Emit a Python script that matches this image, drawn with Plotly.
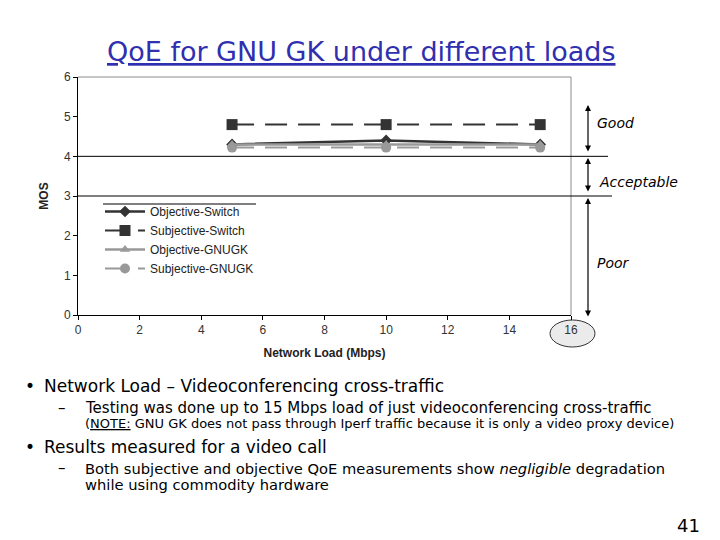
import plotly.graph_objects as go

# ---- data ----
loads = [5, 10, 15]
objective_switch = [4.3, 4.4, 4.3]
subjective_switch = [4.8, 4.8, 4.8]
objective_gnugk = [4.3, 4.3, 4.3]
subjective_gnugk = [4.22, 4.22, 4.22]

x_ticks = [0, 2, 4, 6, 8, 10, 12, 14, 16]
y_ticks = [0, 1, 2, 3, 4, 5, 6]

# plot area geometry in pixels
L, R, T, B = 78, 571, 77, 315
W, H = 720, 540


def px(p):
    return (p - L) / (R - L)


def py(p):
    return (B - p) / (B - T)


fig = go.Figure()
fig.add_trace(go.Scatter(x=loads, y=objective_switch, name="Objective-Switch",
                         mode="lines+markers",
                         line=dict(color="#333333", width=2.5),
                         marker=dict(symbol="diamond", size=9, color="#333333")))
fig.add_trace(go.Scatter(x=loads, y=subjective_switch, name="Subjective-Switch",
                         mode="lines+markers",
                         line=dict(color="#333333", width=2, dash="22px,11px"),
                         marker=dict(symbol="square", size=11, color="#333333")))
fig.add_trace(go.Scatter(x=loads, y=objective_gnugk, name="Objective-GNUGK",
                         mode="lines+markers",
                         line=dict(color="#999999", width=2.5),
                         marker=dict(symbol="triangle-up", size=9, color="#999999")))
fig.add_trace(go.Scatter(x=loads, y=subjective_gnugk, name="Subjective-GNUGK",
                         mode="lines+markers",
                         line=dict(color="#999999", width=2, dash="22px,11px"),
                         marker=dict(symbol="circle", size=10, color="#999999")))

axis_font = dict(family="Liberation Sans", size=12, color="#333333")
fig.update_layout(
    width=W, height=H,
    margin=dict(l=L, r=W - R, t=T, b=H - B),
    paper_bgcolor="white", plot_bgcolor="white",
    showlegend=True,
    legend=dict(x=px(100), y=py(197), xanchor="left", yanchor="top",
                font=dict(family="Liberation Sans", size=12, color="#222222"),
                bgcolor="rgba(0,0,0,0)", tracegroupgap=0, itemwidth=40),
    xaxis=dict(range=[0, 16], tickvals=x_ticks, showgrid=False, zeroline=False,
               showline=True, linecolor="black", linewidth=1,
               ticks="outside", ticklen=4, tickcolor="black",
               tickfont=axis_font,
               title=dict(text="<b>Network Load (Mbps)</b>", standoff=12,
                          font=dict(family="Liberation Sans", size=12, color="#222222"))),
    yaxis=dict(range=[0, 6], tickvals=y_ticks, showgrid=False, zeroline=False,
               showline=True, linecolor="black", linewidth=1,
               ticks="outside", ticklen=4, tickcolor="black",
               tickfont=axis_font,
               title=dict(text="<b>MOS</b>", standoff=12,
                          font=dict(family="Liberation Sans", size=12, color="#222222"))),
)

shapes = []
# top and right gray borders
shapes.append(dict(type="line", xref="paper", yref="paper", x0=0, x1=1, y0=1, y1=1,
                   line=dict(color="#8c8c8c", width=1)))
shapes.append(dict(type="line", xref="paper", yref="paper", x0=1, x1=1, y0=0, y1=1,
                   line=dict(color="#8c8c8c", width=1)))
# threshold lines
shapes.append(dict(type="line", xref="paper", yref="y", x0=0, x1=px(608), y0=4, y1=4,
                   line=dict(color="black", width=1)))
shapes.append(dict(type="line", xref="paper", yref="y", x0=0, x1=px(612), y0=3, y1=3,
                   line=dict(color="black", width=1)))
# legend top line
shapes.append(dict(type="line", xref="paper", yref="paper", x0=px(103), x1=px(256),
                   y0=py(204), y1=py(204), line=dict(color="black", width=1)))
# ellipse around 16
shapes.append(dict(type="circle", xref="paper", yref="paper", x0=px(550), x1=px(595),
                   y0=py(320), y1=py(347), fillcolor="#ebebeb",
                   line=dict(color="#333333", width=1), layer="below"))
fig.update_layout(shapes=shapes)

ann = []
# double arrows
ax_x = px(588)
for ytop, ybot in [(105, 153), (158, 193), (198, 318)]:
    ann.append(dict(xref="x domain", yref="y domain", x=ax_x, y=py(ytop), ax=ax_x, ay=py(ybot),
                    axref="x domain", ayref="y domain", showarrow=True, arrowhead=2,
                    arrowsize=1, arrowwidth=1.2, arrowcolor="black",
                    arrowside="end+start", text=""))
zone_font = dict(family="DejaVu Sans", size=14, color="black")
for label, xp, yp in [("<i>Good</i>", 595, 123), ("<i>Acceptable</i>", 597, 182),
                      ("<i>Poor</i>", 595, 263)]:
    ann.append(dict(xref="paper", yref="paper", x=px(xp), y=py(yp), text=label,
                    showarrow=False, xanchor="left", yanchor="middle", font=zone_font))

# title
ann.append(dict(xref="paper", yref="paper", x=px(361), y=py(52),
                text="<u>QoE for GNU GK under different loads</u>", showarrow=False,
                xanchor="center", yanchor="middle",
                font=dict(family="DejaVu Sans", size=27, color="#2f2fb0")))

body = "DejaVu Sans"
texts = [
    ("•", 30, 386, 17, "center"),
    ("Network Load – Videoconferencing cross-traffic", 42, 386, 17, "left"),
    ("–", 62, 408, 15, "center"),
    ("Testing was done up to 15 Mbps load of just videoconferencing cross-traffic", 83, 408, 15, "left"),
    ("(<u>NOTE:</u> GNU GK does not pass through Iperf traffic because it is only a video proxy device)", 83, 423, 13, "left"),
    ("•", 30, 447, 17, "center"),
    ("Results measured for a video call", 42, 447, 17, "left"),
    ("–", 62, 468, 15, "center"),
    ("Both subjective and objective QoE measurements show <i>negligible</i> degradation", 83, 468, 14.7, "left"),
    ("while using commodity hardware", 83, 484, 14.7, "left"),
]
for t, xp, yp, sz, anc in texts:
    ann.append(dict(xref="paper", yref="paper", x=px(xp), y=py(yp), text=t,
                    showarrow=False, xanchor=anc, yanchor="middle",
                    font=dict(family=body, size=sz, color="black")))
ann.append(dict(xref="paper", yref="paper", x=px(702), y=py(525), text="41",
                showarrow=False, xanchor="right", yanchor="middle",
                font=dict(family=body, size=18, color="black")))
fig.update_layout(annotations=ann)

fig.write_html("out.html", config={"displayModeBar": False},
               post_script="document.body.style.margin='0';")
